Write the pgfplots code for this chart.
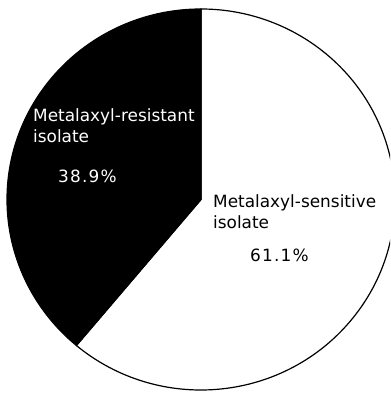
\documentclass[border=0pt]{standalone}
\usepackage{fontspec}
\setmainfont{DejaVu Sans}
\newfontfamily\pctfont{DejaVu Sans}[LetterSpace=7]
\usepackage{pgfplots}
\usepackage{pgfplotstable}
\pgfplotsset{compat=1.18}

% Share of isolates (%)
\pgfplotstableread{
group share
resistant 38.9
sensitive 61.1
}\sharetable

\begin{document}
\begin{tikzpicture}
\pgfplotstablegetelem{0}{share}\of\sharetable \let\resist\pgfplotsretval
\pgfplotstablegetelem{1}{share}\of\sharetable \let\sensit\pgfplotsretval
% the resistant slice starts at 12 o'clock and runs counter-clockwise
\pgfmathsetmacro\cutangle{90+3.6*\resist}
\useasboundingbox (0,0) rectangle (390pt,395pt);
\begin{axis}[at={(0,0)}, anchor=south west, scale only axis,
  width=390pt, height=395pt,
  xmin=0, xmax=390, ymin=0, ymax=395,
  hide axis, clip=true]
  % sensitive slice
  \filldraw[fill=white, draw=black, line width=1.2pt]
    (axis cs:201,195.5) -- +(\cutangle:194pt and 190.5pt)
    arc[start angle=\cutangle, end angle=450, x radius=194pt, y radius=190.5pt] -- cycle;
  % resistant slice
  \filldraw[fill=black, draw=black, line width=1.2pt]
    (axis cs:201,195.5) -- +(90:194pt and 190.5pt)
    arc[start angle=90, end angle=\cutangle, x radius=194pt, y radius=190.5pt] -- cycle;

  \tikzset{lbl/.style={anchor=base west, inner sep=0pt,
    font=\fontsize{16.9}{20}\selectfont}}
  \node[lbl, text=white] at (axis cs:33,273) {Metalaxyl-resistant};
  \node[lbl, text=white] at (axis cs:33,252) {isolate};
  \node[lbl, text=white, font=\fontsize{16.9}{20}\selectfont\pctfont] at (axis cs:58,212) {\resist\%};
  \node[lbl] at (axis cs:213,187) {Metalaxyl-sensitive};
  \node[lbl] at (axis cs:213,166) {isolate};
  \node[lbl, font=\fontsize{16.9}{20}\selectfont\pctfont] at (axis cs:250,133) {\sensit\%};
\end{axis}
\end{tikzpicture}
\end{document}
